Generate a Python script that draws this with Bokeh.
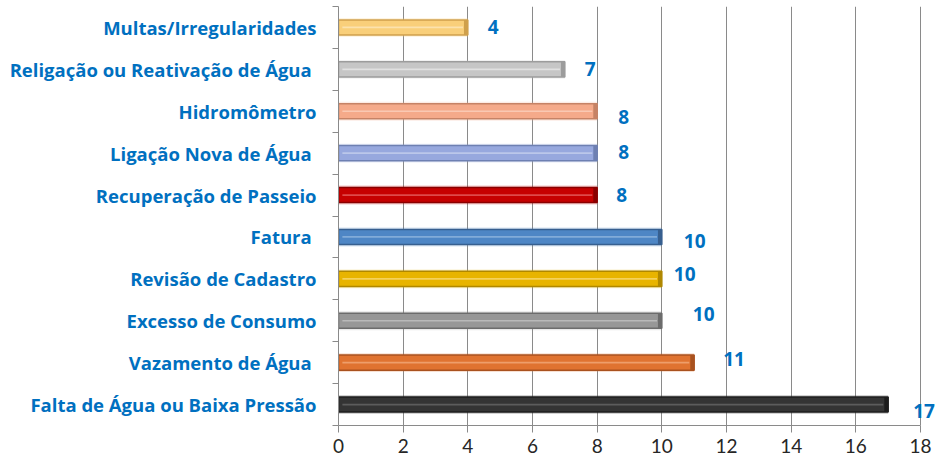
from bokeh.plotting import figure
from bokeh.models import ColumnDataSource, LabelSet, FixedTicker, Range1d
from bokeh.core.properties import value
from bokeh.embed import file_html
from bokeh.resources import INLINE

# Data (bottom to top)
categories = [
    "Falta de Água ou Baixa Pressão",
    "Vazamento de Água ",
    "Excesso de Consumo",
    "Revisão de Cadastro",
    "Fatura ",
    "Recuperação de Passeio",
    "Ligação Nova de Água ",
    "Hidromômetro",
    "Religação ou Reativação de Água ",
    "Multas/Irregularidades",
]
values = [17, 11, 10, 10, 10, 8, 8, 8, 7, 4]
tick_values = [0, 2, 4, 6, 8, 10, 12, 14, 16, 18]

# Styles
fill_colors = ["#343434", "#E07330", "#979797", "#E8B400", "#4E86C5",
               "#C60000", "#97A8DE", "#F5AA8A", "#C6C6C6", "#F9CF7A"]
line_colors = ["#1C1C1C", "#A9521F", "#6C6C6C", "#B08800", "#375F8F",
               "#8A0000", "#6E80B2", "#C68366", "#9C9C9C", "#CFA04C"]
hi_colors = ["#5C5C5C", "#EE9E6A", "#B9B9B9", "#F4D15C", "#82ABD8",
             "#DE4A4A", "#BBC7EA", "#FAC9B3", "#E0E0E0", "#FCE2AD"]
label_dx = [25, 29, 31, 12, 22, 19, 21, 21, 20, 20]
label_dy = [-6, 4, 7, 5, -4, 0, 1, -6, 0, 0]

idx = list(range(len(categories)))
src = ColumnDataSource(dict(
    y=idx, v=values, fill=fill_colors, line=line_colors, hi=hi_colors,
    capl=[v - 0.12 for v in values], hil=[0.12] * len(values),
    hir=[v - 0.15 for v in values],
    txt=[str(v) for v in values], dx=label_dx, dy=label_dy,
))

# frame spans 338..935 px; value 18 sits at 920 px
x_end = 18 * (935 - 338) / (920 - 338)

p = figure(width=935, height=466, output_backend="svg", toolbar_location=None,
           x_range=Range1d(0, x_end), y_range=Range1d(-0.5, 9.5),
           min_border_left=338, min_border_right=0, min_border_top=6,
           min_border_bottom=41)
p.outline_line_color = None
p.background_fill_color = "white"
p.border_fill_color = "white"

# Glow, bar, highlight, end cap
p.hbar(y="y", left=0, right="v", height=0.45, source=src,
       fill_color="fill", fill_alpha=0.22, line_color=None)
p.hbar(y="y", left=0, right="v", height=0.36, source=src,
       fill_color="fill", line_color="line", line_width=1.5)
p.hbar(y="y", left="hil", right="hir", height=0.04, source=src,
       fill_color="hi", line_color=None)
p.hbar(y="y", left="capl", right="v", height=0.36, source=src,
       fill_color="line", line_color=None)

labels = LabelSet(x="v", y="y", text="txt", x_offset="dx", y_offset="dy",
                  source=src, text_font=value("Open Sans"), text_font_style="bold",
                  text_font_size="19px", text_color="#0070C0",
                  text_baseline="middle", text_align="left")
p.add_layout(labels)

# Grid
p.ygrid.grid_line_color = None
p.xgrid.ticker = FixedTicker(ticks=tick_values)
p.xgrid.grid_line_color = "#8A8A8A"
p.xgrid.grid_line_width = 1

# X axis
xa = p.xaxis[0]
xa.ticker = FixedTicker(ticks=tick_values)
xa.bounds = (0, 18)
xa.axis_line_color = "#8A8A8A"
xa.major_tick_line_color = "#8A8A8A"
xa.major_tick_out = 7
xa.major_tick_in = 0
xa.minor_tick_line_color = None
xa.major_label_text_font = "Lato"
xa.major_label_text_font_size = "19px"
xa.major_label_text_color = "#262626"
xa.major_label_standoff = 6

# Y axis
ya = p.yaxis[0]
ya.ticker = FixedTicker(ticks=idx, minor_ticks=[i - 0.5 for i in range(len(idx) + 1)])
ya.major_label_overrides = {i: c for i, c in zip(idx, categories)}
ya.axis_line_color = "#8A8A8A"
ya.major_tick_line_color = None
ya.major_tick_out = 0
ya.major_tick_in = 0
ya.minor_tick_line_color = "#8A8A8A"
ya.minor_tick_out = 6
ya.minor_tick_in = 0
ya.major_label_text_font = "Open Sans"
ya.major_label_text_font_style = "bold"
ya.major_label_text_font_size = "18.5px"
ya.major_label_text_color = "#0070C0"
ya.major_label_standoff = 16

open("out.html", "w").write(file_html(p, INLINE))
